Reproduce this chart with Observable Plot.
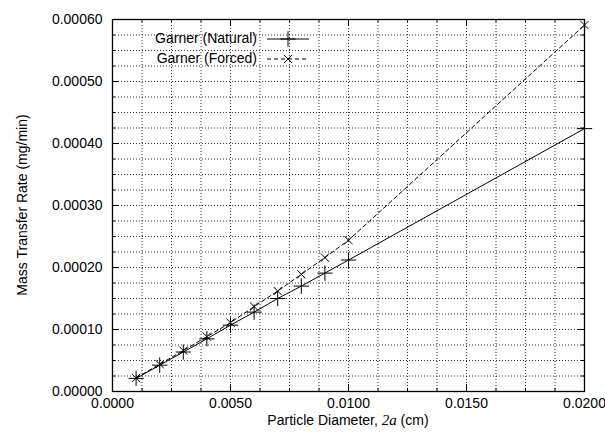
<!DOCTYPE html>
<html>
<head>
<meta charset="utf-8">
<script src="https://cdn.jsdelivr.net/npm/d3@7"></script>
<script src="https://cdn.jsdelivr.net/npm/@observablehq/plot@0.6"></script>
<style>
  html, body { margin: 0; padding: 0; background: white; }
  #wrap { position: relative; width: 605px; height: 434px; }
</style>
</head>
<body>
<div id="wrap"></div>
<script>
// ---- data ----
const diameters = [0.001, 0.002, 0.003, 0.004, 0.005, 0.006, 0.007, 0.008, 0.009, 0.010, 0.020];
const naturalRate = [0.0000212, 0.0000425, 0.0000637, 0.0000850, 0.000107, 0.000128, 0.000150, 0.000170, 0.000191, 0.000212, 0.000424];
const forcedRate  = [0.0000218, 0.0000440, 0.0000660, 0.0000885, 0.000111, 0.000137, 0.000162, 0.000189, 0.000216, 0.000244, 0.000591];
const seriesNames = ["Garner (Natural)", "Garner (Forced)"];
const xMajorTicks = [0, 0.005, 0.010, 0.015, 0.020];
const yMajorTicks = [0, 0.0001, 0.0002, 0.0003, 0.0004, 0.0005, 0.0006];
const xMinorStep = 0.00125;
const yMinorStep = 0.000025;

const natural = diameters.map((d, i) => ({x: d, y: naturalRate[i]}));
const forced = diameters.map((d, i) => ({x: d, y: forcedRate[i]}));
const xMinor = d3.range(0, 17).map(i => +(i * xMinorStep).toFixed(6));
const yMinor = d3.range(0, 25).map(i => +(i * yMinorStep).toFixed(7));
const xGrid = xMinor.filter(v => v > 0 && v < 0.02);
const yGrid = yMinor.filter(v => v > 0 && v < 0.0006);

const W = 605, H = 434, mL = 112, mR = 21, mT = 19, mB = 43;
const pw = W - mL - mR, ph = H - mT - mB;
const FS = 14;
const grid = {stroke: "#000", strokeDasharray: "1,2", strokeWidth: 1, strokeOpacity: 0.8};

const chart = Plot.plot({
  width: W, height: H,
  marginLeft: mL, marginRight: mR, marginTop: mT, marginBottom: mB,
  style: {fontFamily: "'Liberation Sans', Arial, sans-serif", fontSize: FS + "px", background: "white", color: "black"},
  x: {domain: [0, 0.02]},
  y: {domain: [0, 0.0006]},
  marks: [
    Plot.ruleX(xGrid, grid),
    Plot.ruleY(yGrid, grid),
    // inward ticks: bottom & top
    Plot.tickX(xMinor, {x: d => d, insetTop: ph - 3, stroke: "black"}),
    Plot.tickX(xMinor, {x: d => d, insetBottom: ph - 3, stroke: "black"}),
    Plot.tickX(xMajorTicks, {x: d => d, insetTop: ph - 7, stroke: "black"}),
    Plot.tickX(xMajorTicks, {x: d => d, insetBottom: ph - 7, stroke: "black"}),
    // inward ticks: left & right
    Plot.tickY(yMinor, {y: d => d, insetRight: pw - 3, stroke: "black"}),
    Plot.tickY(yMinor, {y: d => d, insetLeft: pw - 3, stroke: "black"}),
    Plot.tickY(yMajorTicks, {y: d => d, insetRight: pw - 7, stroke: "black"}),
    Plot.tickY(yMajorTicks, {y: d => d, insetLeft: pw - 7, stroke: "black"}),
    Plot.frame({stroke: "black", strokeWidth: 1.3}),
    Plot.axisX({ticks: xMajorTicks, tickFormat: d3.format(".4f"), tickSize: 0, tickPadding: 7, label: null}),
    Plot.axisY({ticks: yMajorTicks, tickFormat: d3.format(".5f"), tickSize: 0, tickPadding: 10, label: null}),
    Plot.line(natural, {x: "x", y: "y", stroke: "black", strokeWidth: 1}),
    Plot.line(forced, {x: "x", y: "y", stroke: "black", strokeWidth: 1, strokeDasharray: "4,3"}),
    Plot.dot(natural, {x: "x", y: "y", symbol: "plus", r: 5, stroke: "black", strokeWidth: 1}),
    Plot.dot(forced, {x: "x", y: "y", symbol: "times", r: 3.8, stroke: "black", strokeWidth: 1})
  ]
});

const svg = d3.select(chart);
// y-axis title
svg.append("text")
  .attr("transform", `translate(23,${mT + ph / 2}) rotate(-90)`)
  .attr("text-anchor", "middle")
  .attr("dominant-baseline", "middle")
  .attr("font-size", FS)
  .attr("fill", "black")
  .text("Mass Transfer Rate (mg/min)");
// x-axis title with italic 2a
const xt = svg.append("text")
  .attr("x", mL + pw / 2).attr("y", 425)
  .attr("text-anchor", "middle")
  .attr("font-size", FS)
  .attr("fill", "black");
xt.append("tspan").text("Particle Diameter, ");
xt.append("tspan").attr("font-family", "'Liberation Serif', 'Times New Roman', serif").attr("font-style", "italic").attr("font-size", 15).text("2a");
xt.append("tspan").text(" (cm)");

// legend (inside plot, top-left)
const lg = svg.append("g").attr("font-size", FS);
const rows = [
  {name: seriesNames[0], dash: null, sym: d3.symbolPlus, r: 5, y: 39},
  {name: seriesNames[1], dash: "4,3", sym: d3.symbolTimes, r: 3.8, y: 59}
];
rows.forEach(row => {
  lg.append("text").attr("x", 257).attr("y", row.y).attr("text-anchor", "end")
    .attr("dominant-baseline", "middle").attr("fill", "black").text(row.name);
  lg.append("line").attr("x1", 267).attr("x2", 309).attr("y1", row.y).attr("y2", row.y)
    .attr("stroke", "black").attr("stroke-dasharray", row.dash);
  lg.append("path").attr("transform", `translate(288,${row.y})`)
    .attr("d", d3.symbol(row.sym, row.r * row.r * Math.PI)()).attr("fill", "none").attr("stroke", "black");
});

document.getElementById("wrap").appendChild(chart);
</script>
</body>
</html>
